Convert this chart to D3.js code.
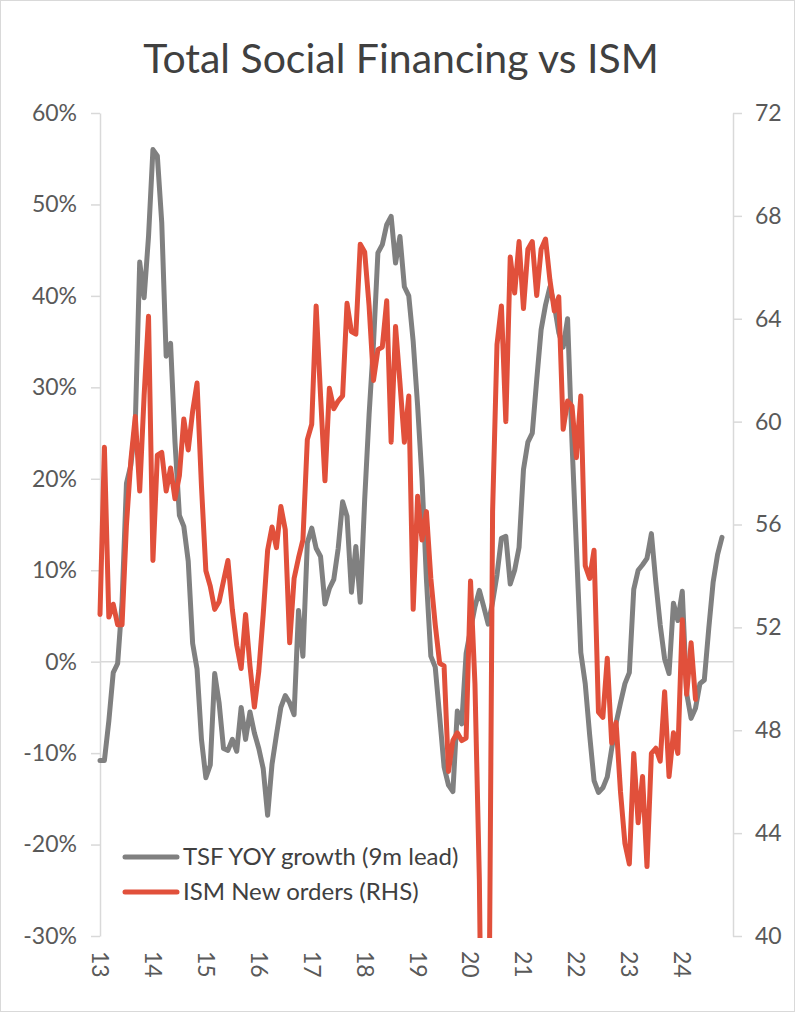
<!DOCTYPE html>
<html>
<head>
<meta charset="utf-8">
<script src="https://cdn.jsdelivr.net/npm/d3@7"></script>
<style>
  body { margin: 0; background: #fff; }
  #chart { width: 795px; height: 1012px; }
  text { font-family: Lato, "Open Sans", sans-serif; }
</style>
</head>
<body>
<div id="chart"></div>
<script>
// monthly, starting Jan 2013
const yearLabels = ['13', '14', '15', '16', '17', '18', '19', '20', '21', '22', '23', '24'];

// TSF YoY growth (%), 9m lead — Jan 2013 .. Oct 2024
const tsfGrowth = [
  -10.8, -10.8, -6.5, -1.2, -0.2, 6.5, 19.5, 21.5, 26, 43.7, 39.8, 46.5,
  56, 55.3, 48, 33.4, 34.8, 24, 16, 14.8, 11, 2, -0.8, -8.5,
  -12.7, -11.3, -1.3, -4.5, -9.5, -9.7, -8.5, -9.8, -5, -8.5, -5.5, -7.8,
  -9.5, -11.7, -16.8, -11.2, -8, -5, -3.7, -4.5, -5.8, 5.6, 0.6, 13,
  14.6, 12.4, 11.5, 6.3, 8, 9, 12.4, 17.5, 15.9, 7.6, 12.6, 6.5,
  17.7, 27, 34.8, 44.7, 45.6, 47.8, 48.7, 43.6, 46.5, 41, 40, 35,
  28, 20, 9, 0.6, -0.6, -6, -11.5, -13.5, -14.2, -5.4, -6.8, 0.9,
  3.5, 6, 7.8, 6, 4.1, 6.5, 9.5, 13.5, 13.7, 8.5, 10, 12.5,
  21, 24, 25, 30.8, 36.3, 39, 41, 39, 36, 34.4, 37.5, 24,
  12.5, 1, -2.4, -8, -13, -14.3, -13.8, -12.6, -9.5, -6.7, -4.5, -2.4,
  -1.2, 7.9, 10, 10.6, 11.3, 14, 8.7, 4, 0.3, -1.3, 6.4, 4.5,
  7.7, -3.5, -6.2, -5.1, -2.4, -2, 3.6, 8.7, 11.7, 13.6
];

// ISM new orders index (RHS) — Jan 2013 .. Apr 2024
const ismNewOrders = [
  52.5, 59, 52.4, 52.9, 52.1, 52.1, 56, 58.5, 60.2, 57.3, 61, 64.1,
  54.6, 58.7, 58.8, 57.3, 58.2, 57, 57.9, 60.1, 58.9, 60.4, 61.5, 57.5,
  54.2, 53.6, 52.7, 53, 53.8, 54.6, 52.7, 51.3, 50.4, 52.5, 50.5, 48.9,
  50.3, 52.5, 55, 55.9, 55.1, 56.7, 55.8, 51.4, 53.9, 54.7, 55.4, 59.3,
  59.9, 64.5, 61, 57.7, 61.3, 60.5, 60.8, 61, 64.6, 63.5, 63.4, 66.9,
  66.6, 64.5, 61.6, 62.8, 62.9, 64.7, 59.2, 63.7, 61.5, 59.2, 61, 52.7,
  57.1, 55.4, 56.5, 53.9, 52.1, 50.6, 50.5, 46.4, 47.6, 47.9, 47.6, 47.7,
  53.8, 49.8, 42.2, 27.1, 31.8, 56.5, 63, 64.5, 60, 66.4, 65, 67,
  64.4, 66.7, 67, 64.9, 66.7, 67.1, 65.5, 64.3, 64.85, 59.7, 60.8, 60.6,
  58.6, 61, 54.4, 53.9, 55, 48.7, 48.5, 50.8, 47.5, 48.3, 45.6, 43.6,
  42.8, 47.1, 44.4, 46.2, 42.7, 47.1, 47.3, 46.8, 49.5, 46.2, 47.9, 47.1,
  52.3, 49.4, 51.4, 49.2
];

const leftTicks = [-0.3, -0.2, -0.1, 0, 0.1, 0.2, 0.3, 0.4, 0.5, 0.6];
const rightTicks = [40, 44, 48, 52, 56, 60, 64, 68, 72];

const width = 795, height = 1012;
const plot = {left: 100, right: 733, top: 113, bottom: 936};
const axisColor = '#d9d9d9', labelColor = '#595959';

let svg = d3.select('#chart').append('svg')
    .attr('width', width)
    .attr('height', height);

svg.append('rect')
    .attr('x', 0.5).attr('y', 0.5)
    .attr('width', width - 1).attr('height', height - 1)
    .attr('fill', '#fff')
    .attr('stroke', axisColor);

svg.append('text')
    .attr('x', 401)
    .attr('y', 73)
    .attr('text-anchor', 'middle')
    .attr('font-size', 41)
    .attr('fill', '#404040')
    .text('Total Social Financing vs ISM');

let xScale = d3.scaleLinear()
    .domain([0, 143.5])
    .range([plot.left, plot.right]);

let yLeft = d3.scaleLinear()
    .domain([-0.3, 0.6])
    .range([plot.bottom, plot.top]);

let yRight = d3.scaleLinear()
    .domain([40, 72])
    .range([plot.bottom, plot.top]);

// axes
let leftAxis = svg.append('g')
    .attr('transform', `translate(${plot.left},0)`)
    .call(d3.axisLeft(yLeft).tickValues(leftTicks).tickSize(9).tickSizeOuter(0).tickPadding(14)
        .tickFormat(d => Math.round(d * 100) + '%'));

let rightAxis = svg.append('g')
    .attr('transform', `translate(${plot.right},0)`)
    .call(d3.axisRight(yRight).tickValues(rightTicks).tickSize(9).tickSizeOuter(0).tickPadding(13));

[leftAxis, rightAxis].forEach(g => {
    g.select('.domain').attr('stroke', axisColor).attr('stroke-width', 1.5);
    g.selectAll('.tick line').attr('stroke', axisColor).attr('stroke-width', 1.5);
    g.selectAll('.tick text')
        .attr('font-size', 23)
        .attr('fill', labelColor)
        .style('font-family', 'Lato, "Open Sans", sans-serif');
});

// zero line
svg.append('line')
    .attr('x1', plot.left).attr('x2', plot.right)
    .attr('y1', yLeft(0)).attr('y2', yLeft(0))
    .attr('stroke', axisColor)
    .attr('stroke-width', 1.5);

// year labels, rotated
svg.append('g')
    .selectAll('text')
    .data(yearLabels)
    .join('text')
    .attr('transform', (d, i) => `translate(${xScale(i * 12)},951) rotate(90)`)
    .attr('dy', '0.35em')
    .attr('font-size', 23)
    .attr('fill', labelColor)
    .text(d => d);

svg.append('clipPath')
    .attr('id', 'plotClip')
    .append('rect')
    .attr('x', plot.left - 10)
    .attr('y', plot.top - 10)
    .attr('width', plot.right - plot.left + 20)
    .attr('height', plot.bottom - plot.top + 12);

let lines_g = svg.append('g')
    .attr('clip-path', 'url(#plotClip)');

let tsfLine = d3.line()
    .x((d, i) => xScale(i))
    .y(d => yLeft(d / 100));

let ismLine = d3.line()
    .x((d, i) => xScale(i))
    .y(d => yRight(d));

lines_g.append('path')
    .datum(tsfGrowth)
    .attr('d', tsfLine)
    .attr('fill', 'none')
    .attr('stroke', '#808080')
    .attr('stroke-width', 5)
    .attr('stroke-linejoin', 'round')
    .attr('stroke-linecap', 'round');

lines_g.append('path')
    .datum(ismNewOrders)
    .attr('d', ismLine)
    .attr('fill', 'none')
    .attr('stroke', '#e1503b')
    .attr('stroke-width', 5)
    .attr('stroke-linejoin', 'round')
    .attr('stroke-linecap', 'round');

// legend
let legend = svg.append('g')
    .selectAll('g')
    .data([
        {label: 'TSF YOY growth (9m lead)', color: '#808080'},
        {label: 'ISM New orders (RHS)', color: '#e1503b'}
    ])
    .join('g')
    .attr('transform', (d, i) => `translate(125,${857 + i * 35})`);

legend.append('line')
    .attr('x1', 0).attr('x2', 52)
    .attr('stroke', d => d.color)
    .attr('stroke-width', 5)
    .attr('stroke-linecap', 'round');

legend.append('text')
    .attr('x', 58)
    .attr('dy', '0.35em')
    .attr('font-size', 24)
    .attr('fill', '#404040')
    .text(d => d.label);
</script>
</body>
</html>
